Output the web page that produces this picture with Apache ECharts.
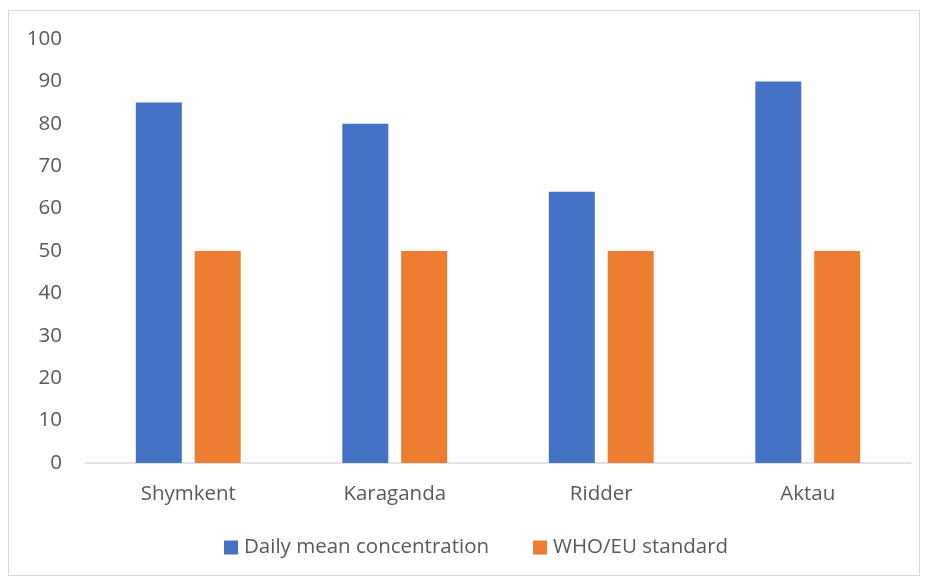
<!DOCTYPE html>
<html>
<head>
<meta charset="utf-8">
<script src="https://cdn.jsdelivr.net/npm/echarts@6/dist/echarts.min.js"></script>
<style>
  html, body { margin: 0; padding: 0; background: #fff; }
  #frame { position: absolute; left: 8px; top: 10px; width: 912px; height: 566px; border: 1px solid #d9d9d9; box-sizing: border-box; }
  #chart { position: absolute; left: 0; top: 0; width: 929px; height: 580px; }
</style>
</head>
<body>
<div id="frame"></div>
<div id="chart"></div>
<script>
// City categories and measured values
const cities = ['Shymkent', 'Karaganda', 'Ridder', 'Aktau'];
const dailyMean = [85, 80, 64, 90];
const whoEuStandard = [50, 50, 50, 50];
const seriesNames = ['Daily mean concentration', 'WHO/EU standard'];
const yTicks = { min: 0, max: 100, interval: 10 };

const FONT = '"Open Sans", "Noto Sans", sans-serif';
const TEXT = '#595959';
const SIZE = 20.5;

const chart = echarts.init(document.getElementById('chart'), null, { renderer: 'canvas' });
chart.setOption({
  animation: false,
  backgroundColor: 'transparent',
  textStyle: { fontFamily: FONT },
  grid: { left: 85, right: 18, top: 39, bottom: 117, containLabel: false },
  legend: {
    top: 537,
    left: 224,
    padding: 0,
    itemWidth: 14,
    itemHeight: 14,
    itemGap: 44,
    icon: 'rect',
    textStyle: { color: TEXT, fontSize: SIZE, fontFamily: FONT, padding: [0, 0, 0, 1] },
    data: seriesNames
  },
  xAxis: {
    type: 'category',
    data: cities,
    axisLine: { lineStyle: { color: '#d9d9d9', width: 1.5 } },
    axisTick: { show: false },
    axisLabel: { color: TEXT, fontSize: SIZE, fontFamily: FONT, margin: 21 }
  },
  yAxis: {
    type: 'value',
    min: yTicks.min,
    max: yTicks.max,
    interval: yTicks.interval,
    axisLine: { show: false },
    axisTick: { show: false },
    splitLine: { show: false },
    axisLabel: { color: TEXT, fontSize: SIZE, fontFamily: FONT, margin: 23 }
  },
  series: [
    {
      name: seriesNames[0],
      type: 'bar',
      data: dailyMean,
      barWidth: 46,
      barGap: '28%',
      itemStyle: { color: '#4472c4' }
    },
    {
      name: seriesNames[1],
      type: 'bar',
      data: whoEuStandard,
      barWidth: 46,
      itemStyle: { color: '#ed7d31' }
    }
  ]
});
</script>
</body>
</html>
